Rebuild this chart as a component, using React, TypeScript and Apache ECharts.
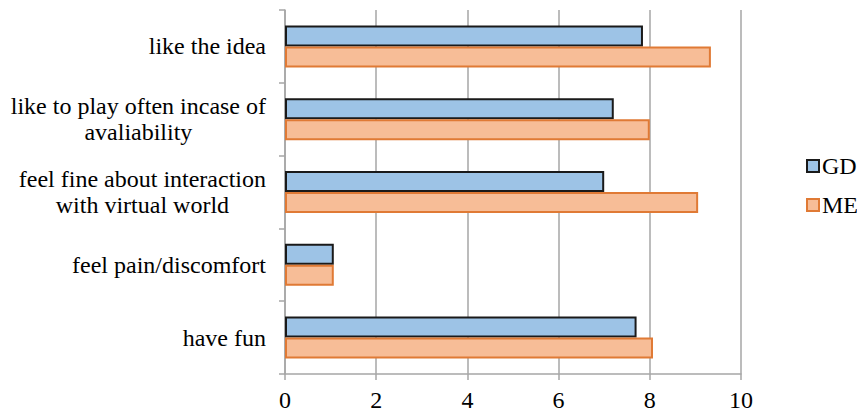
import React, { useEffect, useRef } from "react";
import * as echarts from "echarts";

const categories = [
  "like the idea",
  "like to play often incase of\navaliability",
  "feel fine about interaction\nwith virtual world",
  "feel pain/discomfort",
  "have fun",
];
const gdValues = [7.85, 7.21, 7.0, 1.07, 7.71];
const meValues = [9.34, 8.0, 9.06, 1.07, 8.07];
const xTicks = [0, 2, 4, 6, 8, 10];

export default function App() {
  const ref = useRef<HTMLDivElement>(null);
  useEffect(() => {
    if (!ref.current) return;
    const chart = echarts.init(ref.current, undefined, { renderer: "svg" });
    const font = "Liberation Serif";
    const fs = 24;
    chart.setOption({
      animation: false,
      backgroundColor: "#ffffff",
      textStyle: { fontFamily: font },
      grid: { left: 285, right: 124, top: 10, bottom: 42, containLabel: false },
      legend: {
        orient: "vertical",
        left: 806,
        top: 154,
        padding: 0,
        icon: "rect",
        itemWidth: 12,
        itemHeight: 12,
        itemGap: 15,
        textStyle: { fontFamily: font, fontSize: fs, color: "#000", padding: [0, 0, 0, -2] },
        data: ["GD", "ME"],
      },
      xAxis: {
        type: "value",
        min: xTicks[0],
        max: xTicks[xTicks.length - 1],
        interval: 2,
        axisLine: { show: true, lineStyle: { color: "#a6a6a6", width: 1.5 } },
        axisTick: { show: true, length: 6, lineStyle: { color: "#a6a6a6", width: 1.5 } },
        splitLine: { show: true, lineStyle: { color: "#a6a6a6", width: 1.5 } },
        axisLabel: { fontFamily: font, fontSize: fs, color: "#000", margin: 14 },
      },
      yAxis: {
        type: "category",
        inverse: true,
        data: categories,
        axisLine: { show: true, lineStyle: { color: "#a6a6a6", width: 1.5 } },
        axisTick: { show: true, length: 6, lineStyle: { color: "#a6a6a6", width: 1.5 } },
        splitLine: { show: false },
        axisLabel: {
          fontFamily: font,
          fontSize: fs,
          color: "#000",
          margin: 19,
          lineHeight: 26,
          formatter: (v: string) =>
            v.indexOf("\n") >= 0
              ? v
                  .split("\n")
                  .map((l) => `{c|${l}}`)
                  .join("\n")
              : v,
          rich: {
            c: { fontFamily: font, fontSize: fs, color: "#000", align: "center", lineHeight: 26 },
          },
        },
      },
      series: [
        {
          name: "GD",
          type: "bar",
          data: gdValues,
          barWidth: 21,
          barGap: "0%",
          itemStyle: { color: "#9dc3e6", borderColor: "#1a1a1a", borderWidth: 2 },
        },
        {
          name: "ME",
          type: "bar",
          data: meValues,
          barWidth: 21,
          barGap: "0%",
          itemStyle: { color: "#f7bd97", borderColor: "#e07a35", borderWidth: 2 },
        },
      ],
    });
    return () => chart.dispose();
  }, []);
  return <div ref={ref} style={{ width: 865, height: 416, margin: -8 }} />;
}
